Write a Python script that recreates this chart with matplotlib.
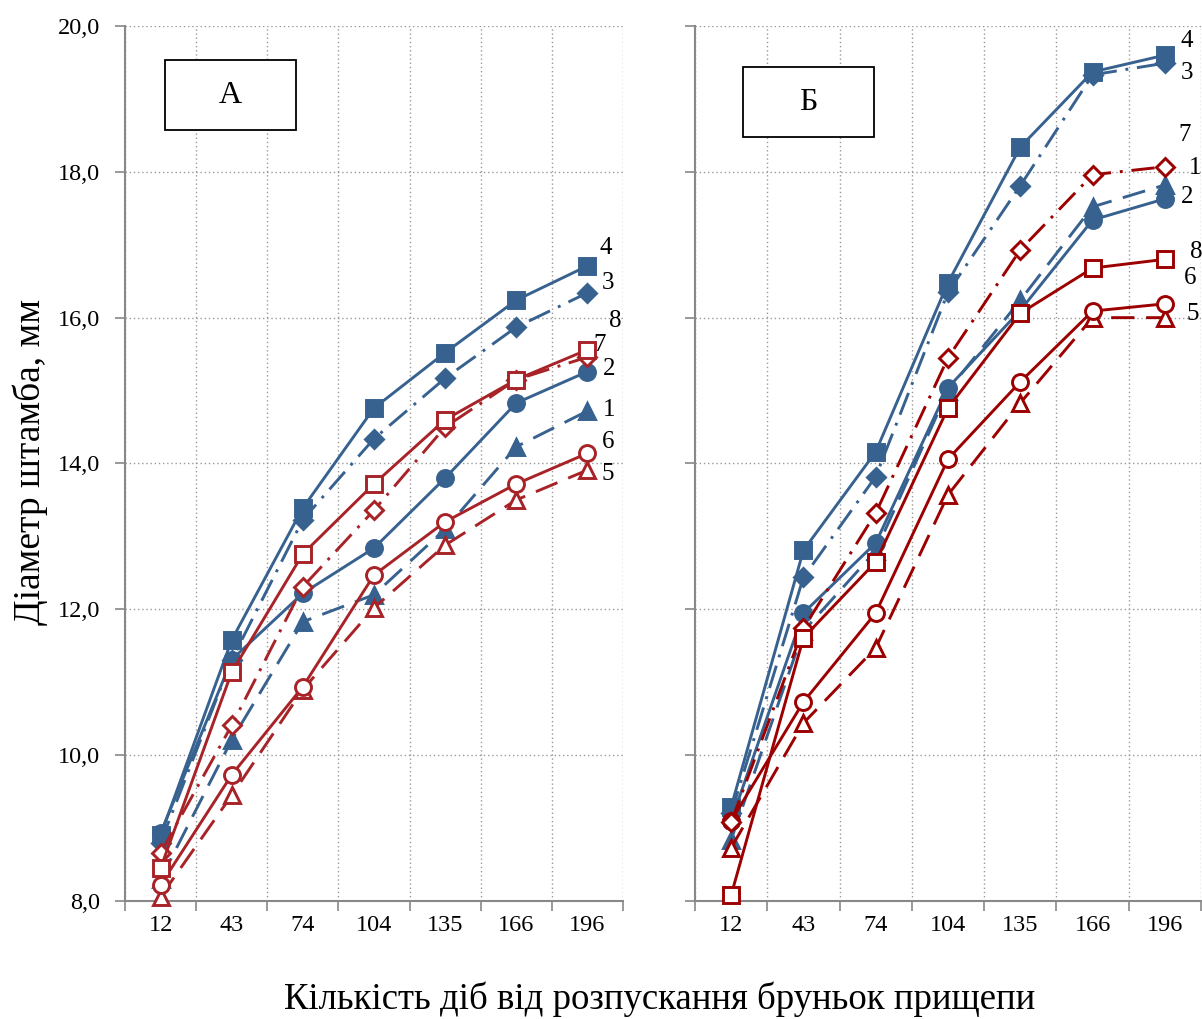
import numpy as np
import matplotlib
matplotlib.use('Agg')
import matplotlib.pyplot as plt
from matplotlib.ticker import FixedLocator, FuncFormatter
from matplotlib.patches import Rectangle

plt.rcParams['font.family'] = ['Liberation Serif', 'DejaVu Serif']

# days since bud break (category axis)
days = ['12', '43', '74', '104', '135', '166', '196']

# panel A - stem diameter, mm
a1 = [8.30, 10.21, 11.83, 12.20, 13.10, 14.23, 14.72]
a2 = [8.93, 11.31, 12.22, 12.84, 13.80, 14.83, 15.26]
a3 = [8.80, 11.31, 13.23, 14.34, 15.17, 15.87, 16.34]
a4 = [8.90, 11.58, 13.39, 14.76, 15.52, 16.24, 16.71]
a5 = [8.06, 9.45, 10.90, 12.02, 12.88, 13.50, 13.91]
a6 = [8.22, 9.73, 10.94, 12.47, 13.20, 13.72, 14.14]
a7 = [8.66, 10.41, 12.31, 13.36, 14.50, 15.15, 15.46]
a8 = [8.45, 11.14, 12.76, 13.72, 14.60, 15.15, 15.56]

# panel B
b1 = [8.84, 11.70, 12.80, 15.00, 16.24, 17.52, 17.82]
b2 = [9.10, 11.95, 12.91, 15.04, 16.10, 17.34, 17.63]
b3 = [9.20, 12.44, 13.82, 16.35, 17.81, 19.33, 19.49]
b4 = [9.29, 12.81, 14.16, 16.48, 18.34, 19.37, 19.60]
b5 = [8.73, 10.44, 11.47, 13.57, 14.83, 16.00, 16.00]
b6 = [9.10, 10.73, 11.95, 14.06, 15.12, 16.09, 16.19]
b7 = [9.08, 11.74, 13.32, 15.45, 16.93, 17.96, 18.07]
b8 = [8.08, 11.61, 12.65, 14.76, 16.06, 16.68, 16.80]

blue = '#37618F'
red_a = '#A82327'
red_b = '#9C0000'

dash = (0, (8, 4))
dashdot = (0, (8, 3, 1, 3))

# series number -> (marker, linestyle, filled)
styles = {
    1: ('^', dash, True),
    2: ('o', '-', True),
    3: ('D', dashdot, True),
    4: ('s', '-', True),
    5: ('^', dash, False),
    6: ('o', '-', False),
    7: ('D', dashdot, False),
    8: ('s', '-', False),
}
msize = {'^': 12, 'o': 11.5, 'D': 9, 's': 11}


def draw_panel(ax, series, red, label_pos, box, box_text):
    x = np.arange(len(days))
    for n in range(1, 9):
        mk, ls, filled = styles[n]
        col = blue if n <= 4 else red
        ax.plot(x, series[n], linestyle=ls, color=col, lw=2.1,
                marker=mk, ms=msize[mk], mec=col,
                mfc=col if filled else 'white', mew=2.1,
                clip_on=False, zorder=3)
    for n, (lx, ly) in label_pos.items():
        ax.text(lx, ly, str(n), fontsize=18, ha='left', va='center', zorder=4)

    ax.set_xlim(-0.5, 6.5)
    ax.set_ylim(8, 20)
    ax.set_xticks(x)
    ax.set_xticklabels(days, fontsize=17.5)
    ax.xaxis.set_minor_locator(FixedLocator(np.arange(-0.5, 7, 1)))
    ax.tick_params(axis='x', which='major', length=0, pad=10)
    ax.tick_params(axis='x', which='minor', length=7, width=1.2, color='#888888')
    ax.set_yticks(np.arange(8, 21, 2))
    ax.yaxis.set_major_formatter(FuncFormatter(lambda v, p: f'{v:.1f}'.replace('.', ',')))
    ax.tick_params(axis='y', length=7, width=1.2, color='#888888', labelsize=17.5, pad=11)
    ax.grid(which='minor', axis='x', linestyle=(0, (1, 2)), color='#999999', lw=1.0)
    ax.grid(which='major', axis='y', linestyle=(0, (1, 2)), color='#999999', lw=1.0)
    for s in ['top', 'right']:
        ax.spines[s].set_visible(False)
    for s in ['left', 'bottom']:
        ax.spines[s].set_color('#888888')
        ax.spines[s].set_linewidth(1.5)
    x0, y0, w, h = box
    ax.add_patch(Rectangle((x0, y0), w, h, transform=ax.transAxes,
                           fc='white', ec='black', lw=1.3, zorder=5))
    ax.text(x0 + w / 2, y0 + h / 2, box_text, transform=ax.transAxes,
            fontsize=23, ha='center', va='center', zorder=6)


fig = plt.figure(figsize=(12.02, 10.19), dpi=100)
axA = fig.add_axes([0.104, 0.1158, 0.4143, 0.8587])
axB = fig.add_axes([0.5782, 0.1158, 0.4210, 0.8587])

seriesA = {1: a1, 2: a2, 3: a3, 4: a4, 5: a5, 6: a6, 7: a7, 8: a8}
seriesB = {1: b1, 2: b2, 3: b3, 4: b4, 5: b5, 6: b6, 7: b7, 8: b8}

labelsA = {4: (6.17, 16.95), 3: (6.2, 16.48), 8: (6.31, 15.95), 7: (6.08, 15.62),
           2: (6.22, 15.3), 1: (6.22, 14.74), 6: (6.2, 14.3), 5: (6.2, 13.85)}
labelsB = {4: (6.22, 19.8), 3: (6.22, 19.35), 7: (6.19, 18.5), 1: (6.33, 18.05),
           2: (6.22, 17.65), 8: (6.35, 16.9), 6: (6.26, 16.55), 5: (6.3, 16.05)}

draw_panel(axA, seriesA, red_a, labelsA, (0.080, 0.881, 0.263, 0.080), 'А')
draw_panel(axB, seriesB, red_b, labelsB, (0.095, 0.873, 0.259, 0.080), 'Б')
axB.set_yticklabels([])

fig.text(0.025, 0.547, 'Діаметр штамба, мм', rotation=90, fontsize=27,
         ha='center', va='center')
fig.text(0.549, 0.002, 'Кількість діб від розпускання бруньок прищепи',
         fontsize=26.5, ha='center', va='bottom')

fig.savefig('out.png', dpi=100)
